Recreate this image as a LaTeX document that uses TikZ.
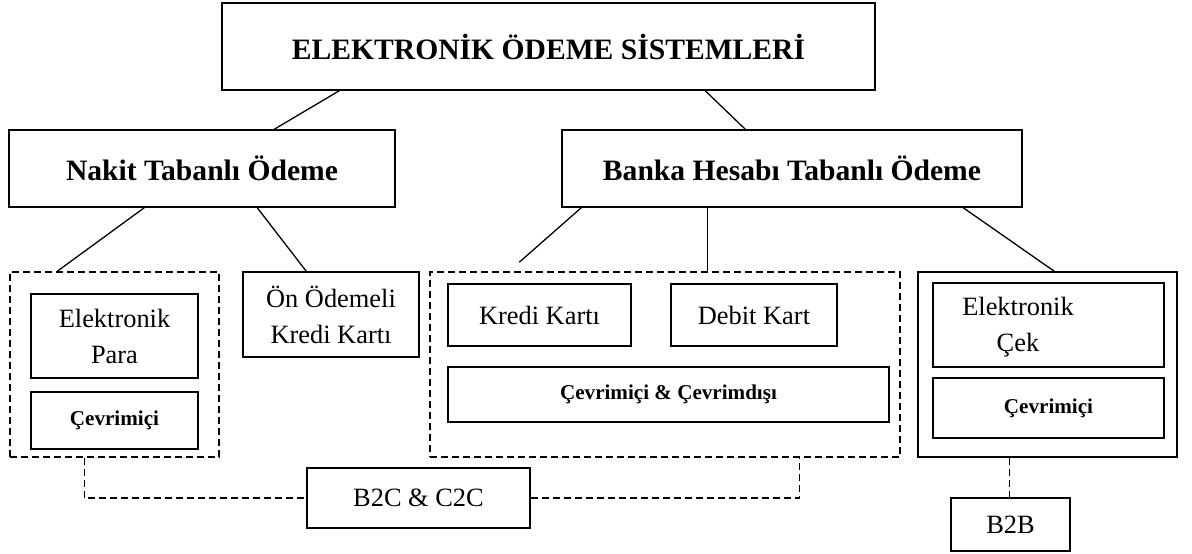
\documentclass[tikz,border=0pt]{standalone}
\usepackage{fontspec}
\setmainfont{Liberation Serif}
\usetikzlibrary{calc}
\begin{document}
\begin{tikzpicture}[x=1pt,y=-1pt,
  box/.style={draw,line width=1.5pt,rectangle,inner sep=0pt,align=center},
  dbox/.style={draw,line width=1.5pt,rectangle,inner sep=0pt,dash pattern=on 7pt off 4pt},
  conn/.style={line width=1.3pt},
  dconn/.style={line width=1.3pt,dash pattern=on 7pt off 4pt},
  big/.style={font=\fontsize{29.6}{36}\selectfont\bfseries},
  reg/.style={font=\fontsize{26.4}{36}\selectfont},
  sml/.style={font=\fontsize{21.1}{26}\selectfont\bfseries}]
\useasboundingbox (0,0) rectangle (1192,554);
\node[box,big,minimum width=653,minimum height=87] (top) at (548.5,46.5) {ELEKTRONİK ÖDEME SİSTEMLERİ};
\node[box,big,minimum width=386,minimum height=77] (nakit) at (202,168.5) {Nakit Tabanlı Ödeme};
\node[box,big,minimum width=460,minimum height=77] (banka) at (792,168.5) {Banka Hesabı Tabanlı Ödeme};
\node[dbox,minimum width=209,minimum height=185] (dashL) at (114.5,364.5) {};
\node[box,reg,minimum width=167,minimum height=84] (epara) at (114.5,336) {Elektronik\\Para};
\node[box,sml,minimum width=167,minimum height=57] (cevL) at (114.5,420.5) {Çevrimiçi};
\node[box,reg,minimum width=176,minimum height=85] (onod) at (331,314.5) {Ön Ödemeli\\Kredi Kartı};
\node[dbox,minimum width=470,minimum height=185] (dashM) at (665,364.5) {};
\node[box,reg,minimum width=183,minimum height=62] (kredi) at (539.5,315) {Kredi Kartı};
\node[box,reg,minimum width=166,minimum height=62] (debit) at (754,315) {Debit Kart};
\node[box,sml,minimum width=441,minimum height=55] (cevM) at (668.5,394.5) {Çevrimiçi \& Çevrimdışı};
\node[box,minimum width=259,minimum height=185] (outerR) at (1047.5,364.5) {};
\node[box,minimum width=231,minimum height=84] (ecek) at (1048.5,325) {};
\node[reg,align=center,inner sep=0pt] (ecekt) at (1018,327) {Elektronik\\Çek};
\node[box,sml,minimum width=231,minimum height=60] (cevR) at (1048.5,408) {Çevrimiçi};
\node[box,reg,minimum width=223,minimum height=60] (b2c) at (418.5,498) {B2C \& C2C};
\node[box,reg,minimum width=119,minimum height=53] (b2b) at (1010.5,524.5) {B2B};
% solid connectors
\draw[conn] ($(top.south west)+(118,0)$) -- ($(nakit.north west)+(266,0)$);
\draw[conn] ($(top.south west)+(484,0)$) -- ($(banka.north west)+(184,0)$);
\draw[conn] ($(nakit.south west)+(136,0)$) -- ($(dashL.north west)+(48,0)$);
\draw[conn] ($(nakit.south west)+(249,0)$) -- ($(onod.north west)+(64,0)$);
\draw[conn] ($(banka.south west)+(20,0)$) -- ($(dashM.north west)+(90,-9)$);
\draw[conn] ($(banka.south west)+(146,0)$) -- ($(dashM.north west)+(278,0)$);
\draw[conn] ($(banka.south west)+(402,0)$) -- ($(outerR.north west)+(137,0)$);
% dashed connectors
\draw[dconn] ($(dashL.south west)+(75,0)$) |- (b2c.west);
\draw[dconn] (b2c.east) -| ($(dashM.south west)+(370,0)$);
\draw[dconn] ($(outerR.south west)+(92,0)$) -- (b2b.north -| {$(outerR.south west)+(92,0)$});
\end{tikzpicture}
\end{document}
